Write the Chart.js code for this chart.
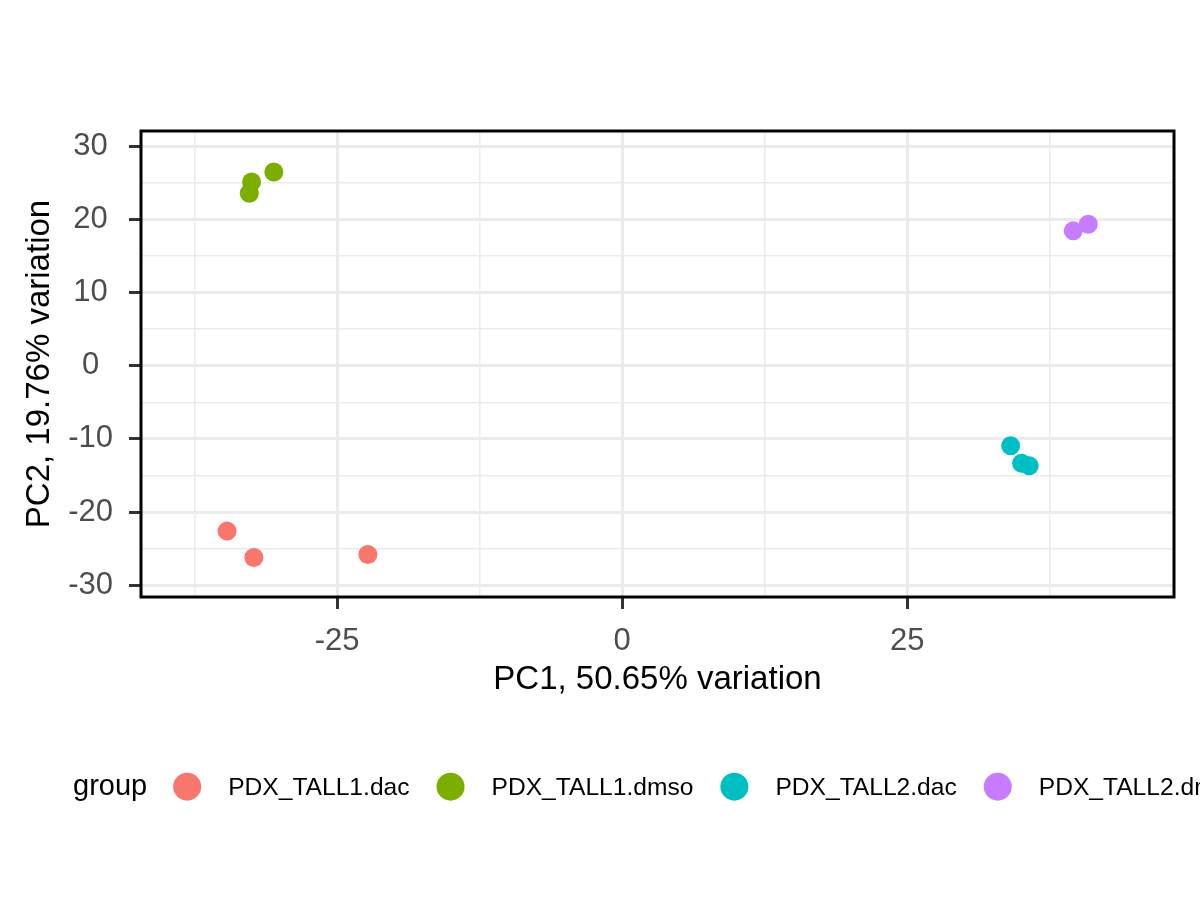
<!DOCTYPE html>
<html><head><meta charset="utf-8">
<script src="https://cdn.jsdelivr.net/npm/chart.js@4.4.1/dist/chart.umd.min.js"></script>
<style>html,body{margin:0;padding:0;background:#fff;overflow:hidden}canvas{display:block}</style>
</head><body>
<canvas id="c" width="1200" height="900"></canvas>
<script>
// ---- data ----
const groups = ['PDX_TALL1.dac', 'PDX_TALL1.dmso', 'PDX_TALL2.dac', 'PDX_TALL2.dmso'];
const groupColors = ['#F8766D', '#7CAE00', '#00BFC4', '#C77CFF'];
const pc1_TALL1_dac  = [-34.65, -32.3, -22.3];
const pc2_TALL1_dac  = [-22.6, -26.2, -25.8];
const pc1_TALL1_dmso = [-32.5, -32.7, -30.55];
const pc2_TALL1_dmso = [25.1, 23.55, 26.45];
const pc1_TALL2_dac  = [34.07, 35.04, 35.7];
const pc2_TALL2_dac  = [-10.95, -13.32, -13.68];
const pc1_TALL2_dmso = [39.56, 40.88];
const pc2_TALL2_dmso = [18.41, 19.32];
const xTickValues = [-37.5, -25, -12.5, 0, 12.5, 25, 37.5];
const xTickLabels = [-25, 0, 25];
const yTickValues = [-30, -25, -20, -15, -10, -5, 0, 5, 10, 15, 20, 25, 30];
const yTickLabels = [-30, -20, -10, 0, 10, 20, 30];
const xTitle = 'PC1, 50.65% variation';
const yTitle = 'PC2, 19.76% variation';
const legendTitle = 'group';

const pc1 = [pc1_TALL1_dac, pc1_TALL1_dmso, pc1_TALL2_dac, pc1_TALL2_dmso];
const pc2 = [pc2_TALL1_dac, pc2_TALL1_dmso, pc2_TALL2_dac, pc2_TALL2_dmso];

const FONT = '"Liberation Sans", Arial, Helvetica, sans-serif';
const GRID = '#EBEBEB';

const isMajorX = v => xTickLabels.includes(v);
const isMajorY = v => yTickLabels.includes(v);

const panelBorder = {
  id: 'panelBorder',
  afterDatasetsDraw(chart) {
    const {ctx, chartArea: a} = chart;
    ctx.save();
    ctx.strokeStyle = '#000';
    ctx.lineWidth = 3;
    ctx.strokeRect(a.left, a.top, a.right - a.left, a.bottom - a.top);
    ctx.restore();
  }
};

const bottomLegend = {
  id: 'bottomLegend',
  afterDraw(chart) {
    const ctx = chart.ctx;
    const base = 795, cy = 786.7, r = 14;
    ctx.save();
    ctx.textBaseline = 'alphabetic';
    ctx.textAlign = 'left';
    ctx.fillStyle = '#000';
    ctx.font = '29px ' + FONT;
    let x = 73;
    ctx.fillText(legendTitle, x, base);
    x += ctx.measureText(legendTitle).width + 26;
    ctx.font = '24.6px ' + FONT;
    chart.data.datasets.forEach((ds, i) => {
      ctx.beginPath();
      ctx.fillStyle = ds.backgroundColor;
      ctx.arc(x + r, cy, r, 0, Math.PI * 2);
      ctx.fill();
      x += 2 * r + 27;
      ctx.fillStyle = '#000';
      ctx.fillText(ds.label, x, base);
      x += ctx.measureText(ds.label).width + 27;
    });
    ctx.restore();
  }
};

new Chart(document.getElementById('c'), {
  type: 'scatter',
  data: {
    datasets: groups.map((g, i) => ({
      label: g,
      data: pc1[i].map((x, j) => ({x: x, y: pc2[i][j]})),
      backgroundColor: groupColors[i],
      borderWidth: 0,
      pointRadius: 9.5,
      pointHoverRadius: 9.5
    }))
  },
  options: {
    responsive: false,
    animation: false,
    devicePixelRatio: 1,
    events: [],
    layout: {padding: {top: 131, right: 26, left: 0, bottom: 183}},
    plugins: {legend: {display: false}, tooltip: {enabled: false}},
    scales: {
      x: {
        type: 'linear', min: -42.2, max: 48.4,
        afterBuildTicks: s => { s.ticks = xTickValues.map(v => ({value: v})); },
        afterFit: s => { s.height = 120; },
        ticks: {
          autoSkip: false, maxRotation: 0, minRotation: 0, padding: 14,
          color: '#4D4D4D', font: {family: FONT, size: 31},
          callback: v => isMajorX(v) ? String(v) : ''
        },
        grid: {
          color: GRID,
          lineWidth: c => isMajorX(c.tick.value) ? 3 : 1.5,
          drawTicks: true, tickLength: 12, tickWidth: 3,
          tickColor: c => isMajorX(c.tick.value) ? '#333333' : 'rgba(0,0,0,0)'
        },
        border: {display: false},
        title: {display: true, text: xTitle, color: '#000', font: {family: FONT, size: 33}, padding: {top: 0, bottom: 17}}
      },
      y: {
        type: 'linear', min: -31.6, max: 32.05,
        afterBuildTicks: s => { s.ticks = yTickValues.map(v => ({value: v})); },
        afterFit: s => { s.width = 141; },
        ticks: {
          autoSkip: false, padding: 16, crossAlign: 'center',
          color: '#4D4D4D', font: {family: FONT, size: 31},
          callback: v => isMajorY(v) ? String(v) : ''
        },
        grid: {
          color: GRID,
          lineWidth: c => isMajorY(c.tick.value) ? 3 : 1.5,
          drawTicks: true, tickLength: 12, tickWidth: 3,
          tickColor: c => isMajorY(c.tick.value) ? '#333333' : 'rgba(0,0,0,0)'
        },
        border: {display: false},
        title: {display: true, text: yTitle, color: '#000', font: {family: FONT, size: 33}, padding: {top: 20, bottom: 0}}
      }
    }
  },
  plugins: [panelBorder, bottomLegend]
});
</script>
</body></html>
